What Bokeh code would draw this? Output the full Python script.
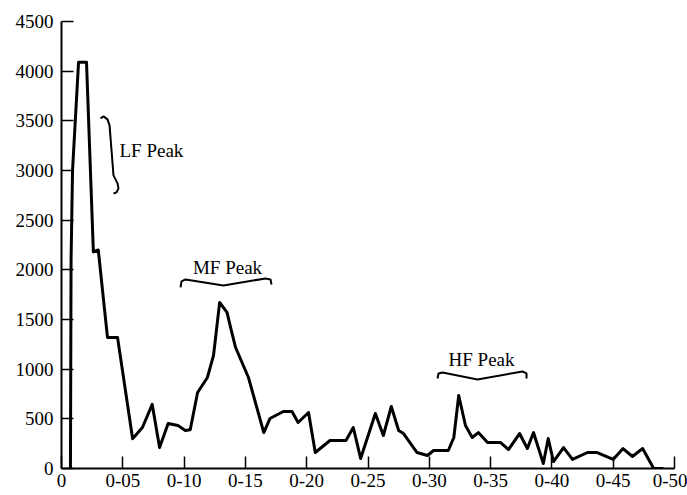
from bokeh.plotting import figure
from bokeh.models import Range1d, FixedTicker
from bokeh.core.properties import value
from bokeh.embed import file_html
from bokeh.resources import INLINE

# Spectral power vs frequency
freq = [0.0073, 0.0078, 0.009, 0.0139, 0.0204, 0.026, 0.030, 0.0375, 0.0457, 0.058,
        0.066, 0.074, 0.080, 0.087, 0.095, 0.101, 0.105, 0.111, 0.119, 0.124,
        0.129, 0.135, 0.138, 0.142, 0.1525, 0.165, 0.170, 0.181, 0.188, 0.193,
        0.2015, 0.207, 0.219, 0.232, 0.238, 0.244, 0.256, 0.2625, 0.269, 0.275,
        0.279, 0.290, 0.2985, 0.3035, 0.3155, 0.320, 0.324, 0.3295, 0.335, 0.340,
        0.3475, 0.358, 0.3646, 0.3736, 0.380, 0.385, 0.393, 0.397, 0.4013, 0.4095,
        0.4168, 0.429, 0.437, 0.450, 0.458, 0.4657, 0.474, 0.483, 0.491]
power = [0, 2100, 3000, 4090, 4090, 2180, 2200, 1320, 1320, 300,
         413, 645, 211, 453, 433, 383, 390, 765, 916, 1138,
         1672, 1571, 1415, 1218, 916, 362, 503, 574, 574, 463,
         564, 161, 282, 282, 413, 101, 554, 332, 624, 383,
         352, 161, 131, 181, 181, 312, 735, 433, 312, 362,
         262, 262, 191, 352, 201, 362, 50, 302, 70, 211,
         91, 161, 161, 91, 201, 121, 201, 0, 0]

x_ticks = [0, 0.05, 0.10, 0.15, 0.20, 0.25, 0.30, 0.35, 0.40, 0.45, 0.50]
x_tick_labels = ["0", "0-05", "0-10", "0-15", "0-20", "0-25", "0-30", "0-35", "0-40", "0-45", "0-50"]
y_ticks = [0, 500, 1000, 1500, 2000, 2500, 3000, 3500, 4000, 4500]

peak_labels = ["LF Peak", "MF Peak", "HF Peak"]

FONT = "Liberation Serif"
AXIS_FONT = "'Liberation Serif', 'Times New Roman', serif"

p = figure(width=687, height=495, output_backend="svg", toolbar_location=None,
           x_range=Range1d(0, 0.5), y_range=Range1d(0, 4500),
           min_border_left=61, min_border_top=21, min_border_right=13, min_border_bottom=27)
p.outline_line_color = None
p.xgrid.visible = False
p.ygrid.visible = False
p.background_fill_color = "white"

for ax in (p.xaxis[0], p.yaxis[0]):
    ax.axis_line_color = "black"
    ax.axis_line_width = 2
    ax.major_tick_line_color = "black"
    ax.major_tick_line_width = 1.5
    ax.major_tick_in = 12
    ax.major_tick_out = 0
    ax.minor_tick_line_color = None
    ax.major_label_text_font = AXIS_FONT
    ax.major_label_text_font_size = "19px"
    ax.major_label_text_color = "black"

p.xaxis[0].ticker = FixedTicker(ticks=x_ticks)
p.xaxis[0].major_label_overrides = {t: l for t, l in zip(x_ticks, x_tick_labels)}
p.xaxis[0].major_label_standoff = 5
p.yaxis[0].ticker = FixedTicker(ticks=y_ticks)
p.yaxis[0].major_label_standoff = 8

p.line(freq, power, line_color="black", line_width=3, line_join="round")

# Annotation braces
p.line([0.0318, 0.0343, 0.0375, 0.0392, 0.0408, 0.0424, 0.0457, 0.0465, 0.0449, 0.0424],
       [3525, 3545, 3515, 3454, 3202, 2951, 2870, 2820, 2780, 2769],
       line_color="black", line_width=2)
p.line([0.0971, 0.0979, 0.1011, 0.1321, 0.1664, 0.1705, 0.1713],
       [1823, 1883, 1903, 1843, 1913, 1903, 1853],
       line_color="black", line_width=2)
p.line([0.3067, 0.3075, 0.3108, 0.3393, 0.3760, 0.3793, 0.3793],
       [906, 957, 967, 896, 977, 957, 906],
       line_color="black", line_width=2)

p.text(x=[0.0473], y=[3202], text=[peak_labels[0]], text_font=value(FONT),
       text_font_size="19px", text_align="left", text_baseline="alphabetic", text_color="black")
p.text(x=[0.1354, 0.3426], y=[2024, 1098], text=peak_labels[1:], text_font=value(FONT),
       text_font_size="19px", text_align="center", text_baseline="alphabetic", text_color="black")

open("out.html", "w").write(file_html(p, INLINE))
